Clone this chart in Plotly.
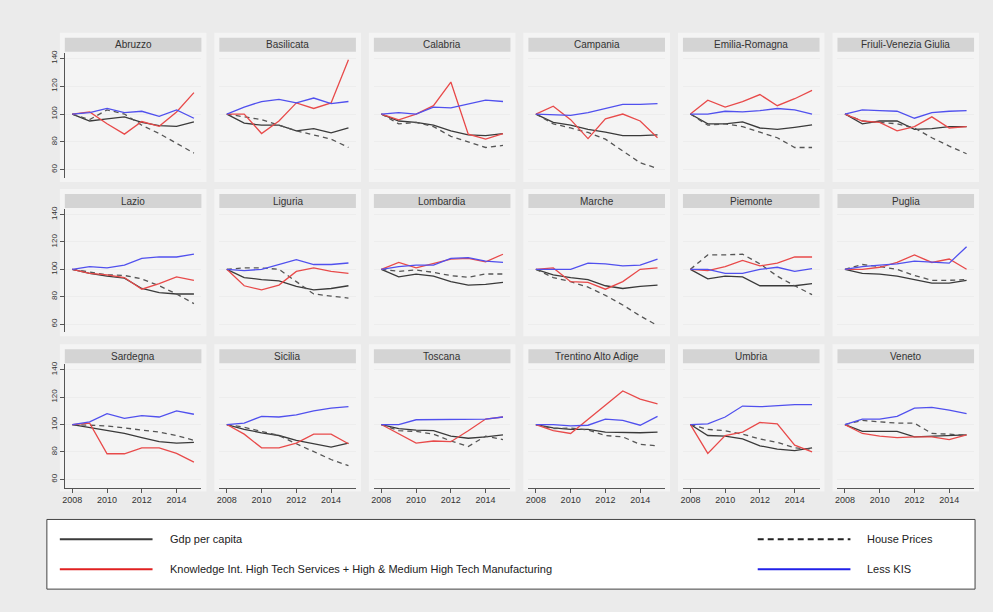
import plotly.graph_objects as go

W, H = 993, 612

years = [2008, 2009, 2010, 2011, 2012, 2013, 2014, 2015]

regions = [
    "Abruzzo", "Basilicata", "Calabria", "Campania", "Emilia-Romagna", "Friuli-Venezia Giulia",
    "Lazio", "Liguria", "Lombardia", "Marche", "Piemonte", "Puglia",
    "Sardegna", "Sicilia", "Toscana", "Trentino Alto Adige", "Umbria", "Veneto",
]

# Index numbers, 2008 = 100
gdp_per_capita = [
    [100, 95, 96.6, 98, 94, 91.7, 91.2, 94.4],
    [100, 93.5, 92, 92, 88, 89.5, 86.5, 90],
    [100, 95, 94, 92, 88, 85, 84.5, 86],
    [100, 94, 92, 89, 87, 84.5, 84.5, 85],
    [100, 93, 93, 94.4, 90, 89, 90.5, 92.2],
    [100, 93, 95, 95, 89, 89.5, 91, 91],
    [100, 97, 95, 93.5, 86, 83, 82, 82],
    [100, 94, 92.5, 91.5, 87.5, 85, 86, 88],
    [100, 94.5, 96.5, 95, 91, 88.5, 89, 90.5],
    [100, 96, 94, 92.5, 88, 86, 87.5, 88.5],
    [100, 93, 95, 94.5, 88, 88, 88, 89.5],
    [100, 97, 96.5, 95, 92.5, 90, 90, 92],
    [100, 98, 95.5, 93.5, 90.5, 87.5, 86.5, 87],
    [100, 96.5, 94, 92, 88.5, 86, 83.5, 86.5],
    [100, 97, 96, 95.5, 91.5, 90, 91, 92.5],
    [100, 97.5, 96.5, 96.5, 94.5, 94, 94, 94.5],
    [100, 92, 91.5, 89.5, 84.5, 82, 81, 83],
    [100, 95, 95, 95, 91, 91.5, 91.5, 92.5],
]

house_prices = [
    [100, 96, 103, 100, 92, 86, 79, 72],
    [100, 98, 96, 92, 88, 85, 82, 76],
    [100, 93, 94, 91, 84, 80, 76, 77.5],
    [100, 93, 90, 86.8, 82, 73.4, 65, 61],
    [100, 92, 93, 91, 87, 83, 76, 76],
    [100, 95, 94, 93, 90, 83, 77, 71.5],
    [100, 98, 96, 95.5, 93, 88, 82, 75],
    [100, 101, 101, 100, 91, 82, 80.5, 79],
    [100, 98.5, 99.5, 97.8, 95.4, 94.2, 96.6, 96.6],
    [100, 94, 91, 87, 81, 74, 66, 59],
    [100, 110.5, 110.5, 111, 104, 95, 88, 81.5],
    [100, 103.5, 102, 100, 95.5, 92, 92, 92.5],
    [100, 99.5, 99, 97.5, 96, 94.5, 92, 88.5],
    [100, 98, 95, 92, 86, 80.5, 74.5, 70],
    [100, 95.5, 95, 93, 88, 84, 91.5, 89],
    [100, 97, 97.5, 96, 92, 91, 85.5, 84.5],
    [100, 96.5, 95.5, 93, 89.5, 87, 83, 82],
    [100, 103, 102, 101, 101, 93.5, 93, 92],
]

kis_hightech = [
    [100, 101.5, 93, 85.6, 94.6, 91.2, 101.5, 115.4],
    [100, 100, 86, 95, 108, 104, 108, 139],
    [100, 95.8, 100, 106, 123, 85.6, 82, 86],
    [100, 105.6, 96, 82.4, 96.6, 100, 95, 83],
    [100, 110, 105, 109, 114, 106, 111, 117],
    [100, 95, 94, 88, 91, 98, 90, 91],
    [100, 97, 96, 94, 85.5, 89.5, 94.5, 92],
    [100, 88, 85, 88.5, 98.5, 101, 98.5, 97],
    [100, 105, 101, 104, 107.5, 108, 105.5, 111],
    [100, 101, 91, 90.5, 85.5, 91, 100, 101],
    [100, 99, 102, 106.5, 102.5, 104.5, 109, 109],
    [100, 100, 101.5, 105, 110.5, 105, 107.5, 100],
    [100, 101, 78.7, 78.7, 83, 83, 79, 72.6],
    [100, 93, 83, 83, 86.5, 93, 93, 86],
    [100, 93.5, 86.5, 88, 87.5, 95.5, 104, 105.5],
    [100, 95.5, 93.5, 104, 114, 124.5, 118.5, 115],
    [100, 79, 92, 94.5, 101.5, 100.5, 85, 80],
    [100, 93.5, 91.5, 90.5, 91, 91, 89, 92.5],
]

less_kis = [
    [100, 101, 104, 101, 102, 98.3, 103, 97],
    [100, 105, 109, 110.5, 108, 111.5, 107.5, 109],
    [100, 101, 100, 105, 104.5, 107, 110, 109],
    [100, 99.5, 99, 101, 104, 107, 107, 107.5],
    [100, 100, 102, 101.5, 102.5, 104, 103, 100],
    [100, 103, 102.5, 102, 97, 101, 102, 102.5],
    [100, 102, 101, 103, 108, 109, 109, 111],
    [100, 99, 100, 103.5, 107, 103.5, 103.5, 104.6],
    [100, 102, 103, 103, 108, 108.5, 106, 105],
    [100, 100, 100, 104.5, 104, 102.5, 103, 107.5],
    [100, 100, 97, 97, 100, 101.5, 98.5, 100.5],
    [100, 102, 103, 104, 106, 105.5, 104.5, 116.5],
    [100, 102, 108, 104.5, 106.5, 105.5, 110, 107.5],
    [100, 101, 106, 105.5, 107, 110, 112, 113],
    [100, 100, 103.5, 103.5, 104, 104, 104, 105.5],
    [100, 100, 99, 99.5, 104, 103, 99.5, 106],
    [100, 100.5, 105.5, 113.5, 113, 114, 114.5, 114.5],
    [100, 104, 104, 106, 112, 112.5, 110.5, 108],
]

y_ticks = [60, 80, 100, 120, 140]
x_ticks = [2008, 2010, 2012, 2014]

series_names = [
    "Gdp per capita",
    "House Prices",
    "Knowledge Int. High Tech Services + High & Medium High Tech Manufacturing",
    "Less KIS",
]

FONT = "Liberation Sans, Arial, sans-serif"
GDP_COLOR = "#3a3a3a"
HOUSE_COLOR = "#555555"
KIS_COLOR = "#e84a4a"
LESS_COLOR = "#5050ee"

# panel geometry in pixels
col_left = [62, 217, 372, 527, 682, 837]
col_width = 137
row_span = [(50, 176), (207, 331), (363, 487)]
title_h = 14


def px(x):
    return x / W


def py(y):
    return 1 - y / H


fig = go.Figure()
shapes = []
annotations = []

for i, name in enumerate(regions):
    r, c = divmod(i, 6)
    k = i + 1
    xa = "x" if k == 1 else f"x{k}"
    ya = "y" if k == 1 else f"y{k}"
    x0, x1 = col_left[c], col_left[c] + col_width
    y0, y1 = row_span[r]

    # light panel surround, title strip and plot background
    shapes.append(dict(type="rect", xref="paper", yref="paper", layer="below",
                       x0=px(x0 - 5), x1=px(x1 + 5), y0=py(y1 + 4), y1=py(y0 - title_h - 6),
                       fillcolor="#f4f4f4", line=dict(width=0)))
    shapes.append(dict(type="rect", xref="paper", yref="paper", layer="below",
                       x0=px(x0), x1=px(x1), y0=py(y0 - 1), y1=py(y0 - 1 - title_h),
                       fillcolor="#d4d4d4", line=dict(width=0)))
    annotations.append(dict(xref="paper", yref="paper", x=px((x0 + x1) / 2),
                            y=py(y0 - 1 - title_h / 2), text=name, showarrow=False,
                            xanchor="center", yanchor="middle",
                            font=dict(family=FONT, size=10, color="#333333")))

    for vals, nm, col, dash in [
        (gdp_per_capita[i], series_names[0], GDP_COLOR, "solid"),
        (house_prices[i], series_names[1], HOUSE_COLOR, "5px,4px"),
        (kis_hightech[i], series_names[2], KIS_COLOR, "solid"),
        (less_kis[i], series_names[3], LESS_COLOR, "solid"),
    ]:
        fig.add_trace(go.Scatter(x=years, y=vals, mode="lines", name=nm,
                                 xaxis=xa, yaxis=ya, showlegend=False,
                                 line=dict(color=col, width=1.3, dash=dash),
                                 hovertemplate=name + " %{x}: %{y}<extra>" + nm + "</extra>"))

    first_col = c == 0
    last_row = r == 2
    xkey = "xaxis" if k == 1 else f"xaxis{k}"
    ykey = "yaxis" if k == 1 else f"yaxis{k}"
    fig.layout[xkey] = dict(
        domain=[px(x0), px(x1)], anchor=ya, range=[2007.57, 2015.43],
        tickvals=x_ticks, showgrid=False, zeroline=False,
        showline=last_row, linecolor="#555555", linewidth=1,
        ticks="outside" if last_row else "", ticklen=4, tickcolor="#555555",
        showticklabels=last_row,
        tickfont=dict(family=FONT, size=9, color="#333333"),
        fixedrange=True,
    )
    fig.layout[ykey] = dict(
        domain=[py(y1), py(y0)], anchor=xa, range=[54, 144],
        tickvals=y_ticks, showgrid=True, gridcolor="#ededed", gridwidth=1,
        zeroline=False,
        showline=first_col, linecolor="#555555", linewidth=1,
        ticks="outside" if first_col else "", ticklen=4, tickcolor="#555555",
        showticklabels=first_col, tickangle=-90,
        tickfont=dict(family=FONT, size=8, color="#333333"),
        fixedrange=True,
    )

# legend box at the bottom
shapes.append(dict(type="rect", xref="paper", yref="paper",
                   x0=px(44), x1=px(975), y0=py(589), y1=py(519),
                   fillcolor="white", line=dict(color="#444444", width=1)))
legend_items = [
    (series_names[0], GDP_COLOR, "solid", 57, 165, 539),
    (series_names[1], "#222222", "6px,4px", 757, 865, 539),
    (series_names[2], "#e02020", "solid", 57, 165, 569),
    (series_names[3], "#2020e8", "solid", 757, 865, 569),
]
for label, col, dash, lx, tx, ly in legend_items:
    shapes.append(dict(type="line", xref="paper", yref="paper",
                       x0=px(lx), x1=px(lx + 93), y0=py(ly), y1=py(ly),
                       line=dict(color=col, width=2, dash=dash)))
    annotations.append(dict(xref="paper", yref="paper", x=px(tx), y=py(ly),
                            text=label, showarrow=False, xanchor="left", yanchor="middle",
                            font=dict(family=FONT, size=11, color="#222222")))

fig.update_layout(
    width=W, height=H,
    margin=dict(l=0, r=0, t=0, b=0),
    paper_bgcolor="#ebebeb",
    plot_bgcolor="white",
    shapes=shapes,
    annotations=annotations,
    showlegend=False,
    hovermode="closest",
)

fig.write_html("out.html", config={"displayModeBar": False})
